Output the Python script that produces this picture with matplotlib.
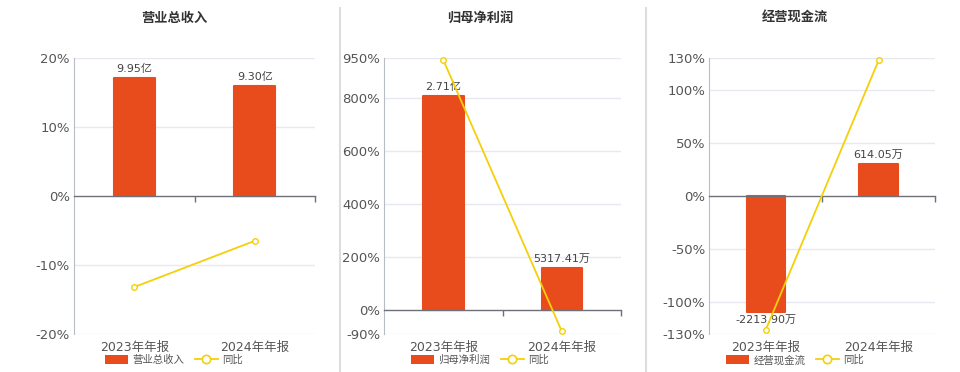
import matplotlib
matplotlib.use('Agg')
from matplotlib import pyplot as plt
from matplotlib.lines import Line2D
from matplotlib.patches import Patch
import numpy as np

plt.rcParams['font.family'] = ['DejaVu Sans', 'Noto Sans CJK SC']

# data
periods = ['2023年年报', '2024年年报']
titles = ['营业总收入', '归母净利润', '经营现金流']

revenue = [9.95, 9.30]            # 亿
profit = [27100, 5317.41]         # 万
cashflow = [-2213.90, 614.05]     # 万
bar_values = [revenue, profit, cashflow]
bar_labels = [['9.95亿', '9.30亿'],
              ['2.71亿', '5317.41万'],
              ['-2213.90万', '614.05万']]

yoy_revenue = [-13.2, -6.5]
yoy_profit = [941, -80.4]
yoy_cashflow = [-126, 127.7]
yoy_values = [yoy_revenue, yoy_profit, yoy_cashflow]

pct_ticks = [[-20, -10, 0, 10, 20],
             [-90, 0, 200, 400, 600, 800, 950],
             [-130, -100, -50, 0, 50, 100, 130]]

# layout / style
bar_color = '#e84b1c'
line_color = '#f5cf0a'
grid_color = '#e6e9f1'
text_color = '#555555'
bar_top = [11.65, 31900, 2640]    # bar-axis value at top of each panel
axes_px = [(74, 241), (384.3, 236.7), (709.3, 225.7)]  # left, width in px
panel_center = [174, 480, 795]
W, H = 960, 372

fig = plt.figure(figsize=(9.6, 3.72), dpi=100)

for i in range(3):
    left, width = axes_px[i]
    ax = fig.add_axes([left / W, 1 - 334 / H, width / W, 276 / H])
    ticks = pct_ticks[i]
    lo, hi = ticks[0], ticks[-1]
    ax.set_ylim(lo, hi)
    ax.set_xlim(-0.5, 1.5)
    ax.set_yticks(ticks)
    ax.set_yticklabels([f'{t}%' for t in ticks])
    ax.tick_params(axis='y', length=0, labelsize=9.5, labelcolor=text_color, pad=3)
    for t in ticks:
        if t != 0:
            ax.axhline(t, color=grid_color, lw=1, zorder=0)
    for s in ['top', 'right', 'bottom']:
        ax.spines[s].set_visible(False)
    ax.spines['left'].set_color('#b8bcc4')
    ax.spines['left'].set_linewidth(0.8)

    # bars on their own scale, zero aligned
    axb = ax.twinx()
    axb.set_ylim(bar_top[i] * lo / hi, bar_top[i])
    axb.patch.set_visible(False)
    axb.axis('off')
    x = np.arange(len(periods))
    bars = axb.bar(x, bar_values[i], width=0.34, color=bar_color, zorder=2,
                   edgecolor=bar_color, linewidth=1.5, joinstyle='round')
    for b, v, lab in zip(bars, bar_values[i], bar_labels[i]):
        if v >= 0:
            axb.annotate(lab, (b.get_x() + b.get_width() / 2, v), xytext=(0, 3),
                         textcoords='offset points', ha='center', va='bottom',
                         fontsize=8, color='#444444')
        else:
            axb.annotate(lab, (b.get_x() + b.get_width() / 2, v), xytext=(0, -2),
                         textcoords='offset points', ha='center', va='top',
                         fontsize=8, color='#444444')

    # zero axis line with band ticks, and the yoy line on top
    axl = ax.twinx()
    axl.set_ylim(lo, hi)
    axl.patch.set_visible(False)
    axl.xaxis.set_visible(True)
    for s in ['top', 'right', 'left']:
        axl.spines[s].set_visible(False)
    axl.spines['bottom'].set_position(('data', 0))
    axl.spines['bottom'].set_color('#6e7079')
    axl.spines['bottom'].set_linewidth(1)
    axl.set_yticks([])
    axl.set_xticks([0.5, 1.5])
    axl.set_xticklabels([])
    ax.tick_params(axis='x', bottom=False, labelbottom=False)
    axl.tick_params(axis='x', bottom=True, direction='out', length=4,
                    color='#6e7079', width=1)
    axl.set_xlim(-0.5, 1.5)
    axl.plot(x, yoy_values[i], color=line_color, lw=1.3, marker='o', ms=4,
             mfc='white', mec=line_color, mew=1, zorder=5, clip_on=False)

    for xi, p in zip(x, periods):
        axl.text(xi, -0.025, p, transform=axl.get_xaxis_transform(), ha='center',
                 va='top', fontsize=9, color=text_color)

    fig.text(panel_center[i] / W, 1 - 18 / H, titles[i], ha='center', va='center',
             fontsize=9.5, fontweight='bold', color='#333333')

    handles = [Patch(facecolor=bar_color, edgecolor='none'),
               Line2D([0], [0], color=line_color, lw=1.3, marker='o', ms=6,
                      mfc='white', mec=line_color, mew=1.2)]
    fig.legend(handles, [titles[i], '同比'], loc='center',
               bbox_to_anchor=(panel_center[i] / W, 1 - 360 / H), ncol=2,
               frameon=False, fontsize=7.5, handlelength=2.2, handleheight=1.0,
               columnspacing=1.0, handletextpad=0.4, labelcolor=text_color)

# panel separators
for xs in [339.5, 645.5]:
    fig.add_artist(Line2D([xs / W, xs / W], [0, 1 - 8 / H], color='#dddddd', lw=1.5))

fig.savefig('out.png', dpi=100)
